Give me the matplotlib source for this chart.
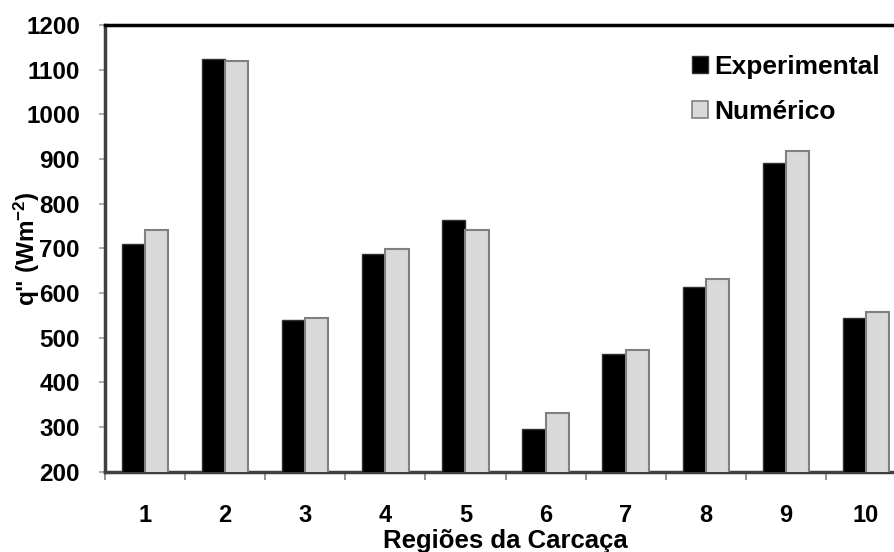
import matplotlib
matplotlib.use("Agg")
import matplotlib.pyplot as plt
import numpy as np
from matplotlib.patches import Patch

categories = ["1", "2", "3", "4", "5", "6", "7", "8", "9", "10"]
experimental = [710, 1123, 540, 687, 763, 296, 463, 614, 890, 545]
numerico = [740, 1119, 543, 699, 740, 332, 472, 632, 918, 557]
yticks = [200, 300, 400, 500, 600, 700, 800, 900, 1000, 1100, 1200]

plt.rcParams["font.family"] = ["Liberation Sans", "DejaVu Sans"]
plt.rcParams["font.weight"] = "bold"
plt.rcParams["mathtext.fontset"] = "custom"
plt.rcParams["mathtext.rm"] = "Liberation Sans:bold"
plt.rcParams["mathtext.bf"] = "Liberation Sans:bold"
plt.rcParams["mathtext.it"] = "Liberation Sans:bold"

fig = plt.figure(figsize=(8.94, 5.52), dpi=100)
ax = fig.add_axes([105 / 894, (552 - 471.7) / 552, 801 / 894, 446.7 / 552])

x = np.arange(1, len(categories) + 1)
w = 0.29
ax.bar(x - w / 2, experimental, width=w, color="black",
       edgecolor="#303030", linewidth=1.0, label="Experimental", zorder=3)
ax.bar(x + w / 2, numerico, width=w, color="#d9d9d9",
       edgecolor="#808080", linewidth=1.5, label="Numérico", zorder=3)

ax.set_xlim(0.5, 10.5)
ax.set_ylim(200, 1200)
ax.set_yticks(yticks)
ax.set_yticklabels([str(v) for v in yticks], fontsize=17.5, fontweight="bold")

ax.set_xticks(x)
ax.set_xticklabels(categories, fontsize=17, fontweight="bold")
ax.set_xticks(np.arange(0.5, 11, 1), minor=True)
ax.tick_params(axis="x", which="major", length=0, pad=23)
ax.tick_params(axis="x", which="minor", length=6, width=1.2, color="#808080",
               direction="out")
ax.tick_params(axis="y", which="major", length=4, width=1.2, color="#a0a0a0",
               direction="out", pad=14)

for s in ["left", "bottom"]:
    ax.spines[s].set_color("#404040")
    ax.spines[s].set_linewidth(2.5)
ax.spines["top"].set_color("black")
ax.spines["top"].set_linewidth(2.5)
ax.spines["right"].set_visible(False)

ax.set_xlabel("Regiões da Carcaça", fontsize=18.5, fontweight="bold",
              va="center")
ax.xaxis.set_label_coords(0.5, (471.7 - 541) / 446.7)
ax.set_ylabel('q" (Wm$^{-2}$)', fontsize=17.5, fontweight="bold",
              va="center")
ax.yaxis.set_label_coords((27 - 105) / 801, 0.5)

handles = [Patch(facecolor="black", edgecolor="#303030", linewidth=1.0),
           Patch(facecolor="#d9d9d9", edgecolor="#808080", linewidth=1.2)]
leg = fig.legend(handles, ["Experimental", "Numérico"], loc="upper left",
                 bbox_to_anchor=(692 / 894, 1 - 55 / 552), frameon=False,
                 prop={"size": 19, "weight": "bold"}, handlelength=0.6,
                 handleheight=0.6, handletextpad=0.25, labelspacing=0.8,
                 borderaxespad=0, borderpad=0)

fig.savefig("out.png", dpi=100)
